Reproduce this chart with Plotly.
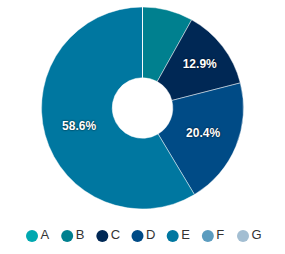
import plotly.graph_objects as go

labels = ["A", "B", "C", "D", "E", "F", "G"]
values = [0, 8.1, 12.9, 20.4, 58.6, 0, 0]
colors = ["#00a8b0", "#00808f", "#002855", "#004b86", "#0077a0", "#5b9cbf", "#a3bed2"]
show_label = [False, False, True, True, True, False, False]

W, H = 285, 254
cx, cy, r = 142.5, 108, 101

fig = go.Figure()
fig.add_trace(go.Pie(
    labels=labels, values=values, sort=False, direction="clockwise", rotation=0,
    hole=0.30,
    marker=dict(colors=colors, line=dict(color="rgba(255,255,255,0.45)", width=1)),
    texttemplate=["%{percent:.1%}" if s else "" for s in show_label],
    textposition="inside", insidetextorientation="horizontal",
    textfont=dict(color="white", family="Liberation Sans", size=12, weight="bold",
                  shadow="0px 0px 2px rgba(0,0,0,0.9)"),
    showlegend=False, hoverinfo="label+percent",
    domain=dict(x=[(cx - r) / W, (cx + r) / W], y=[(H - cy - r) / H, (H - cy + r) / H]),
))

# legend row drawn as a categorical scatter on a hidden axis
x0_px, step_px, ly_px = 32, 35.17, 236
fig.add_trace(go.Scatter(
    x=labels, y=[0] * len(labels), mode="markers+text",
    marker=dict(symbol="circle", size=12, color=colors),
    text=labels, textposition="middle right",
    textfont=dict(family="Liberation Sans", size=13, color="#333"),
    showlegend=False, hoverinfo="skip", cliponaxis=False,
))

fig.update_layout(
    width=W, height=H, margin=dict(l=0, r=0, t=0, b=0),
    paper_bgcolor="white", plot_bgcolor="white",
    xaxis=dict(visible=False, type="category", domain=[0, 1],
               range=[-x0_px / step_px, (W - x0_px) / step_px], fixedrange=True),
    yaxis=dict(visible=False, domain=[0, 2 * (H - ly_px) / H], range=[-1, 1], fixedrange=True),
    showlegend=False,
)
fig.write_html("out.html")
